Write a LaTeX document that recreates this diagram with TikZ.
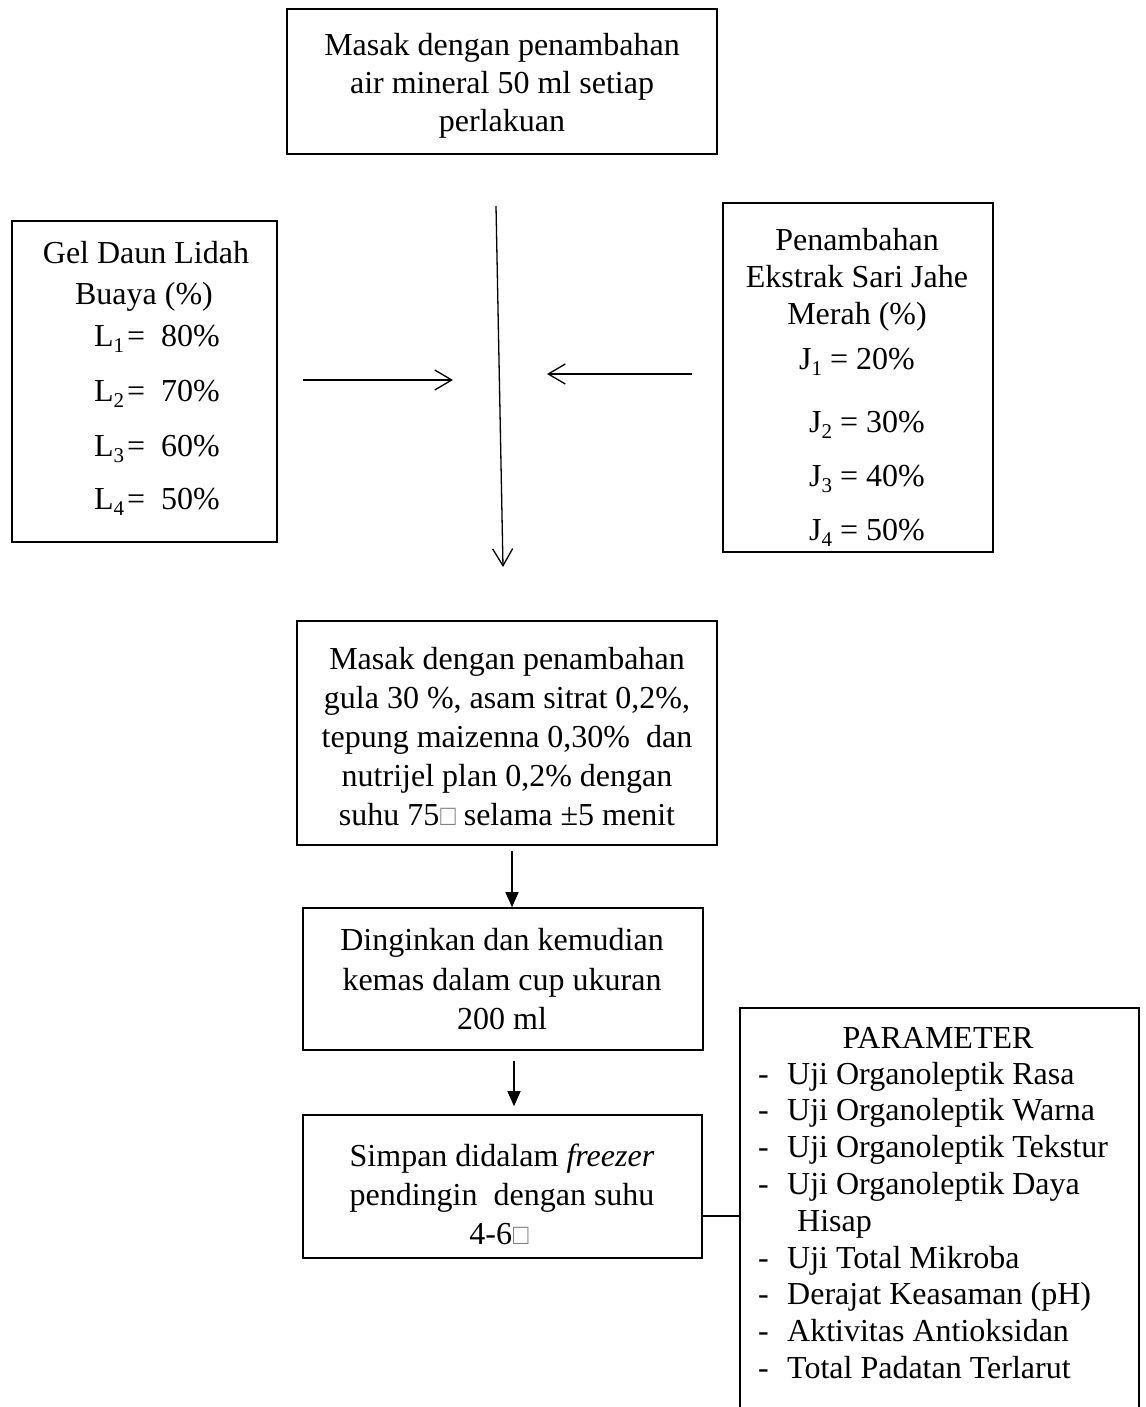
\documentclass[tikz,border=0pt]{standalone}
\usepackage{fontspec}
\setmainfont{Liberation Serif}
\usepackage{graphicx}
\usetikzlibrary{arrows.meta,fit}
\newcommand\mysub[1]{\raisebox{-0.2em}{\fontsize{21}{21}\selectfont #1}}
\newcommand\nd{\hspace{1pt}{\color{gray}\scalebox{0.8}[0.9]{□}}}
\begin{document}
\begin{tikzpicture}[x=1pt,y=-1pt,
  box/.style={draw, line width=1.6pt, inner sep=0pt},
  txt/.style={anchor=base, inner sep=0pt, font=\fontsize{32}{38}\selectfont},
  ltxt/.style={anchor=base west, inner sep=0pt, font=\fontsize{32}{38}\selectfont},
  conn/.style={line width=1.3pt},
  barb/.style={conn, -{Straight Barb[length=17pt,width=20pt,line width=1.3pt]}},
  tri/.style={conn, -{Triangle[length=15pt,width=13pt]}}]
\useasboundingbox (0,0) rectangle (1145,1407);
\clip (0,0) rectangle (1145,1407);
\fill[white] (0,0) rectangle (1145,1407);

% boxes
\node[box, fit={(287,9) (717,154)}] (top) {};
\node[box, fit={(12,221) (277,542)}] (gel) {};
\node[box, fit={(723,203) (993,552)}] (jahe) {};
\node[box, fit={(297,621) (717,845)}] (masak) {};
\node[box, fit={(303,908) (703,1050)}] (dingin) {};
\node[box, fit={(303,1115) (702,1258)}] (simpan) {};
\node[box, fit={(740,1008) (1139,1430)}] (param) {};

% texts
\foreach \y/\t [count=\i] in {56/{Masak dengan penambahan}, 94/{air mineral 50 ml setiap}, 132/{perlakuan}}
  \node[txt] (topt\i) at (502,\y) {\t};

\node[txt] (gel1) at (146,263) {Gel Daun Lidah};
\node[txt] (gel2) at (144,304) {Buaya (\%)};
\foreach \y/\n/\v [count=\i] in {346/1/80, 401/2/70, 456/3/60, 509/4/50}
  \node[txt] (gl\i) at (157,\y) {L\mysub{\n}\hspace{3pt}=\hspace{16pt}\v\%};

\node[txt] (jh1) at (857,250) {Penambahan};
\node[txt] (jh2) at (857,287) {Ekstrak Sari Jahe};
\node[txt] (jh3) at (857,324) {Merah (\%)};
\node[txt] (jl1) at (857,369) {J\mysub{1} = 20\%};
\foreach \y/\n/\v [count=\i from 2] in {440/2/30, 494/3/40, 548/4/50}
  \node[txt] (jl\i) at (867,{\y-8}) {J\mysub{\n} = \v\%};

\foreach \y/\t [count=\i] in {669/{Masak dengan penambahan}, 708/{gula 30 \%, asam sitrat 0,2\%,}, 747/{tepung maizenna 0,30\%\ \ dan}, 786/{nutrijel plan 0,2\% dengan}, 825/{suhu 75\nd\ selama ±5 menit}}
  \node[txt] (mst\i) at (507,\y) {\t};

\foreach \y/\t [count=\i] in {950/{Dinginkan dan kemudian}, 990/{kemas dalam cup ukuran}, 1029/{200 ml}}
  \node[txt] (dgt\i) at (502,\y) {\t};

\node[txt] (sp1) at (502,1166) {Simpan didalam \textit{freezer}};
\node[txt] (sp2) at (502,1205) {pendingin\ \ dengan suhu};
\node[txt] (sp3) at (499,1244) {4-6\nd};

\node[txt] (pt0) at (938,1048) {PARAMETER};
\foreach \t [count=\i] in {Uji Organoleptik Rasa, Uji Organoleptik Warna, Uji Organoleptik Tekstur, Uji Organoleptik Daya}
  \node[ltxt] (pt\i) at (758,{1084+36.8*(\i-1)}) {\makebox[29pt][l]{-}\t};
\node[ltxt] (pth) at (797,1231) {Hisap};
\foreach \t [count=\i from 5] in {Uji Total Mikroba, Derajat Keasaman (pH), Aktivitas Antioksidan, Total Padatan Terlarut}
  \node[ltxt] (pt\i) at (758,{1084+36.8*(\i)}) {\makebox[29pt][l]{-}\t};

% connectors
\coordinate (vt) at (496,206);
\coordinate (vb) at (503,567);
\draw[barb] (vt) -- (vb);
\coordinate (la) at (303,380);
\coordinate (lb) at (453,380);
\draw[barb] (la) -- (lb);
\coordinate (ra) at (692,374);
\coordinate (rb) at (547,374);
\draw[barb] (ra) -- (rb);

\coordinate (ax1) at (512,0);
\draw[tri, shorten <=5pt] (masak.south -| ax1) -- (dingin.north -| ax1);
\coordinate (ax2) at (514,0);
\draw[tri, shorten <=10pt, shorten >=8pt] (dingin.south -| ax2) -- (simpan.north -| ax2);
\coordinate (cy) at (0,1216);
\draw[conn] (simpan.east |- cy) -- (param.west |- cy);
\end{tikzpicture}
\end{document}
